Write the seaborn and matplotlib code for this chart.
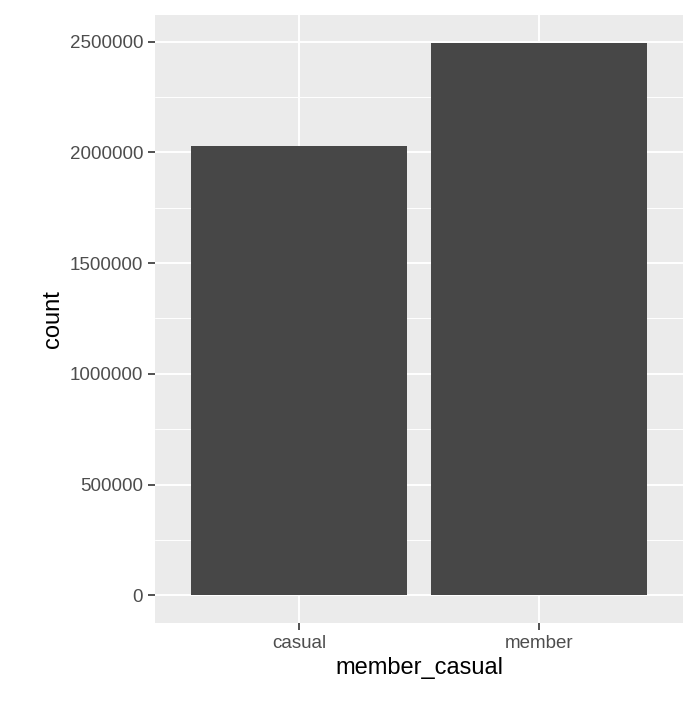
import pandas as pd
import seaborn as sns
from matplotlib import pyplot as plt

categories = ["casual", "member"]
counts = [2027000, 2495000]

sns.set_theme(style="darkgrid", rc={
    "axes.facecolor": "#EBEBEB",
    "grid.color": "white",
    "axes.edgecolor": "none",
})
plt.rcParams["font.family"] = ["Liberation Sans", "DejaVu Sans"]

df = pd.DataFrame({"member_casual": categories, "count": counts})

fig = plt.figure(figsize=(6.96, 7.08), dpi=100)
ax = fig.add_axes([155 / 696, 1 - 623 / 708, 528 / 696, 608 / 708])
sns.barplot(data=df, x="member_casual", y="count", color="#474747",
            saturation=1, width=0.9, linewidth=0, ax=ax)

ax.set_xlim(-0.6, 1.6)
ax.set_ylim(-125000, 2620000)
ticks = [0, 500000, 1000000, 1500000, 2000000, 2500000]
ax.set_yticks(ticks)
ax.set_yticklabels([str(t) for t in ticks])
ax.set_yticks([250000, 750000, 1250000, 1750000, 2250000], minor=True)
ax.grid(which="major", color="white", linewidth=1.4)
ax.grid(which="minor", color="white", linewidth=0.7)
ax.tick_params(axis="both", which="major", length=5, width=1.2, color="#333333",
               labelsize=13.5, labelcolor="#4D4D4D", left=True, bottom=True)
ax.tick_params(axis="both", which="minor", length=0)
ax.set_xlabel("member_casual", fontsize=17, color="black")
ax.set_ylabel("count", fontsize=17, color="black")

fig.savefig("out.png", dpi=100)
